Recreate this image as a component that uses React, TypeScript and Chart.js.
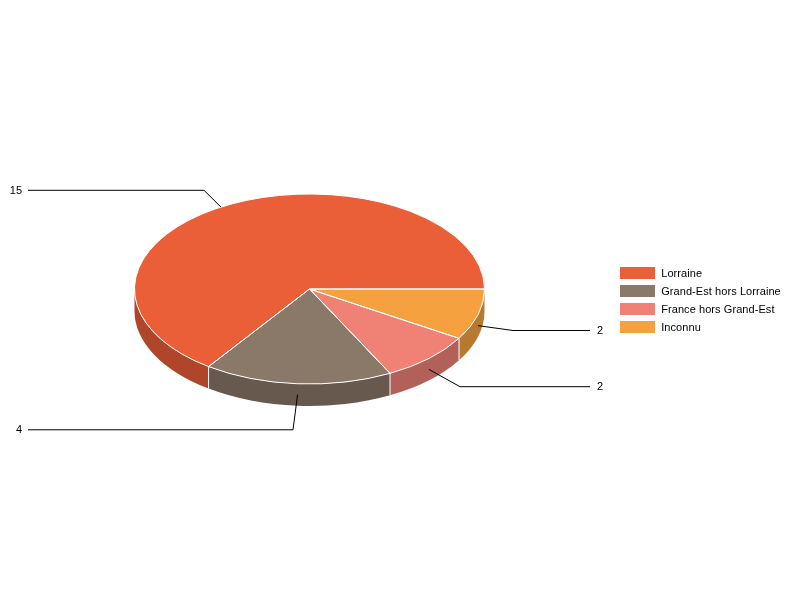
import React, { useEffect, useRef } from "react";
import { Chart, registerables } from "chart.js";

Chart.register(...registerables);

// Data, listed in legend order
const categories = ["Lorraine", "Grand-Est hors Lorraine", "France hors Grand-Est", "Inconnu"];
const values = [15, 4, 2, 2];
const topColors = ["#ea5e38", "#8a7869", "#ef8275", "#f5a140"];
const sideColors = ["#af462a", "#67594e", "#b26158", "#b77830"];

// Leader-line layout: where the callout text sits and where the line bends
const calloutElbowX = [204, 293, 460, 513];
const calloutY = [190.3, 429.8, 386.7, 330.5];
const calloutTextY = [191, 430, 387, 331];
const calloutEndX = [28, 28, 590, 590];
const calloutTextX = [22, 22, 597, 597];
const calloutAngleNudge = [-3, 0, 0, 0];

const FONT = "Liberation Sans";
const TILT = 95 / 175;
const DEPTH = 22;

const elementsInLegendOrder = (chart: any) => {
  const meta = chart.getDatasetMeta(0);
  return [...meta.data].reverse();
};

const pie3d = {
  id: "pie3d",
  afterLayout(chart: any) {
    const lg = chart.legend;
    if (!lg) return;
    const w = lg.width;
    const h = lg.height;
    lg.left = 614;
    lg.top = 261;
    lg.right = lg.left + w + 4;
    lg.bottom = lg.top + h;
    if (!lg.__wrapped) {
      lg.__wrapped = true;
      const orig = lg._draw;
      lg._draw = function () {
        const c = this.ctx;
        const f = c.fillText;
        const k = c.fontKerning;
        const s = c.letterSpacing;
        c.fontKerning = "none";
        c.letterSpacing = "0.07px";
        c.fillText = (t: string, x: number, y: number, m?: number) =>
          m === undefined ? f.call(c, t, x + 0.7, y + 1) : f.call(c, t, x + 0.7, y + 1, m);
        orig.call(this);
        delete c.fillText;
        c.fontKerning = k;
        c.letterSpacing = s;
      };
    }
  },
  beforeDatasetDraw(chart: any) {
    const ctx = chart.ctx;
    const els = elementsInLegendOrder(chart);
    const { x: cx, y: cy, outerRadius: rx } = els[0];
    const ry = rx * TILT;
    // extruded rim, only where it faces the viewer
    els.forEach((el: any, i: number) => {
      const a = Math.max(el.startAngle, 0);
      const b = Math.min(el.endAngle, Math.PI);
      const segs: [number, number][] = [];
      if (b > a) segs.push([a, b]);
      const a2 = Math.max(el.startAngle, 2 * Math.PI);
      const b2 = Math.min(el.endAngle, 3 * Math.PI);
      if (b2 > a2) segs.push([a2, b2]);
      segs.forEach(([s, e]) => {
        ctx.beginPath();
        ctx.ellipse(cx, cy, rx, ry, 0, s, e);
        ctx.ellipse(cx, cy + DEPTH, rx, ry, 0, e, s, true);
        ctx.closePath();
        ctx.fillStyle = sideColors[i];
        ctx.fill();
      });
    });
    ctx.strokeStyle = "#ffffff";
    ctx.lineWidth = 1;
    els.forEach((el: any) => {
      const ang = el.startAngle % (2 * Math.PI);
      if (ang > 0.001 && ang < Math.PI) {
        const px = cx + rx * Math.cos(ang);
        const py = cy + ry * Math.sin(ang);
        ctx.beginPath();
        ctx.moveTo(px, py);
        ctx.lineTo(px, py + DEPTH);
        ctx.stroke();
      }
    });
    // squash the library's arcs into the tilted disc
    ctx.save();
    ctx.translate(cx, cy);
    ctx.scale(1, TILT);
    ctx.translate(-cx, -cy);
  },
  afterDatasetDraw(chart: any) {
    const ctx = chart.ctx;
    ctx.restore();
    const els = elementsInLegendOrder(chart);
    const { x: cx, y: cy, outerRadius: rx } = els[0];
    const ry = rx * TILT;
    ctx.strokeStyle = "#ffffff";
    ctx.lineWidth = 1;
    els.forEach((el: any) => {
      ctx.beginPath();
      ctx.moveTo(cx, cy);
      ctx.ellipse(cx, cy, rx, ry, 0, el.startAngle, el.endAngle);
      ctx.closePath();
      ctx.stroke();
    });
    // callouts
    els.forEach((el: any, i: number) => {
      const mid = (el.startAngle + el.endAngle) / 2 + (calloutAngleNudge[i] * Math.PI) / 180;
      const sx = cx + rx * Math.cos(mid);
      const back = Math.sin(mid) < 0;
      const sy = cy + ry * Math.sin(mid) + (back ? 0 : DEPTH / 2);
      ctx.beginPath();
      ctx.moveTo(sx, sy);
      ctx.lineTo(calloutElbowX[i], calloutY[i]);
      ctx.lineTo(calloutEndX[i], calloutY[i]);
      ctx.strokeStyle = "#000000";
      ctx.lineWidth = 1;
      ctx.stroke();
      ctx.fillStyle = "#000000";
      ctx.font = `11px "${FONT}"`;
      ctx.textBaseline = "middle";
      ctx.textAlign = calloutTextX[i] < cx ? "right" : "left";
      ctx.fillText(String(values[i]), calloutTextX[i], calloutTextY[i]);
    });
  },
};

export default function App() {
  const ref = useRef<HTMLCanvasElement>(null);
  useEffect(() => {
    const chart = new Chart(ref.current as HTMLCanvasElement, {
      type: "pie",
      plugins: [pie3d],
      data: {
        labels: [...categories].reverse(),
        datasets: [
          {
            data: [...values].reverse(),
            backgroundColor: [...topColors].reverse(),
            borderWidth: 0,
          },
        ],
      },
      options: {
        responsive: false,
        devicePixelRatio: 1,
        animation: false,
        rotation: 90,
        layout: { padding: { left: 134.5, right: 315.5, top: 114, bottom: 136 } },
        events: [],
        plugins: {
          tooltip: { enabled: false },
          title: { display: false },
          legend: {
            display: true,
            position: "chartArea",
            align: "start",
            reverse: true,
            labels: {
              boxWidth: 35,
              boxHeight: 12,
              padding: 6,
              color: "#000000",
              font: { family: FONT, size: 11 },
            },
          },
        },
      },
    } as any);
    return () => chart.destroy();
  }, []);
  return (
    <div style={{ position: "fixed", left: 0, top: 0, width: 800, height: 600, background: "#fff" }}>
      <canvas ref={ref} width={800} height={600} style={{ display: "block" }} />
    </div>
  );
}
